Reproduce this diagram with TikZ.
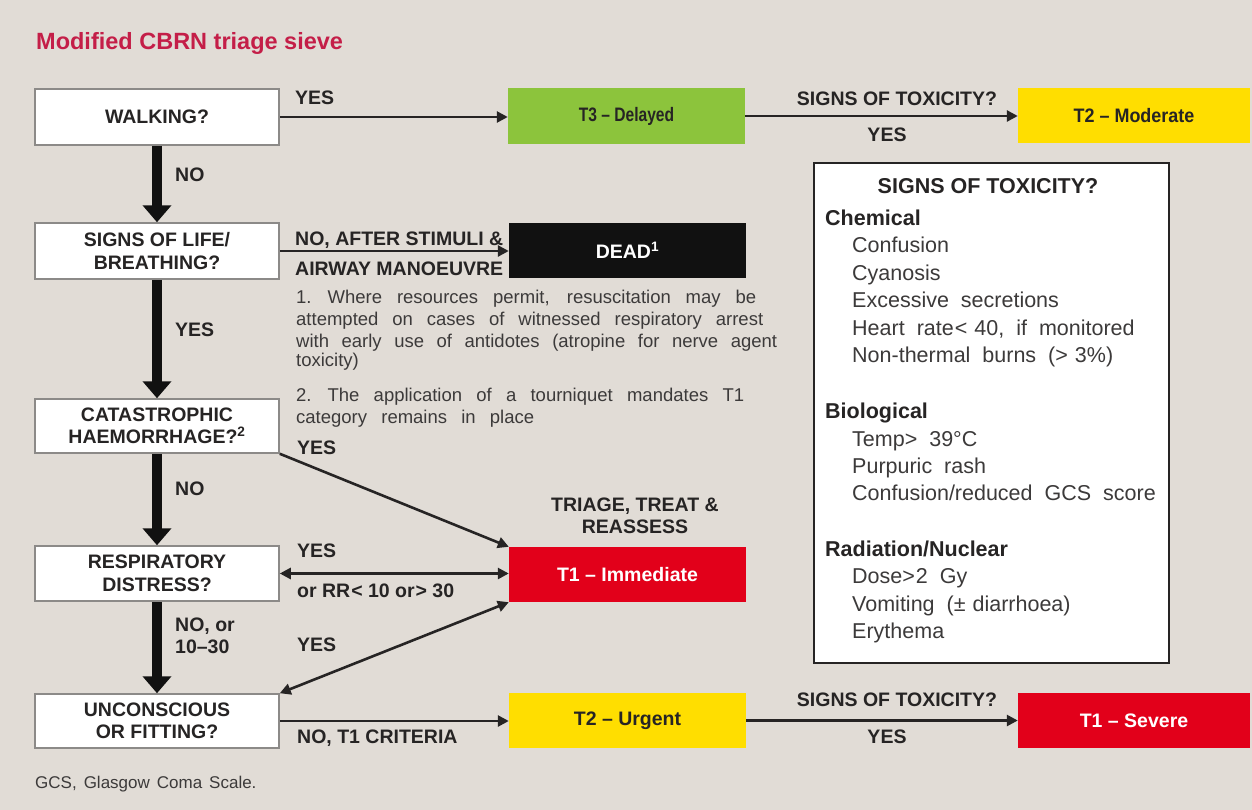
\documentclass[tikz,border=0pt]{standalone}
\usepackage{fontspec}
\usepackage{graphicx}
\setmainfont{Liberation Sans}
\usetikzlibrary{arrows.meta}
\definecolor{bg}{HTML}{E1DCD6}
\definecolor{txt}{HTML}{262424}
\definecolor{ntxt}{HTML}{3C3A3A}
\definecolor{crim}{HTML}{C41E48}
\definecolor{tgreen}{HTML}{8CC43C}
\definecolor{tyellow}{HTML}{FFDE00}
\definecolor{tred}{HTML}{E2001A}
\definecolor{tblack}{HTML}{111111}
\definecolor{qborder}{HTML}{8C8A88}
\newcommand{\flab}{\fontsize{19.5bp}{22.5bp}\selectfont\bfseries}
\newcommand{\fnote}{\fontsize{18.5bp}{21bp}\selectfont}
\newcommand{\fbody}{\fontsize{21.5bp}{25bp}\selectfont}
\newcommand{\fhead}{\fontsize{21.5bp}{25bp}\selectfont\bfseries}
\newcommand{\ws}{\hspace{12bp}}
\begin{document}
\begin{tikzpicture}[x=1bp,y=-1bp,
  qbox/.style={draw=qborder, line width=1.5bp, fill=white, minimum width=244bp,
    minimum height=55bp, inner sep=0pt, align=center, font=\flab, text=txt},
  cbox/.style={minimum width=237bp, minimum height=55bp, inner sep=0pt, font=\flab},
  lab/.style={anchor=west, inner sep=0pt, font=\flab, text=txt, text height=0.72em, text depth=0pt},
  clab/.style={lab, anchor=center},
  note/.style={anchor=west, inner sep=0pt, font=\fnote, text=ntxt, text height=0.72em, text depth=0pt},
  body/.style={anchor=west, inner sep=0pt, font=\fbody, text=ntxt, text height=0.72em, text depth=0pt},
  head/.style={anchor=west, inner sep=0pt, font=\fhead, text=txt, text height=0.72em, text depth=0pt},
  thinarrow/.style={line width=2.6bp, draw=txt, -{Triangle[length=11bp,width=11bp]}},
  dblarrow/.style={line width=2.6bp, draw=txt, {Triangle[length=11bp,width=11bp]}-{Triangle[length=11bp,width=11bp]}},
  thickarrow/.style={line width=10bp, draw=tblack, -{Triangle[length=17bp,width=28bp]}}
]
\useasboundingbox[fill=bg] (0,0) rectangle (1252,810);

% title
\node[anchor=west, inner sep=0pt, text=crim, font=\fontsize{23.5bp}{26bp}\selectfont\bfseries,
  text height=0.72em, text depth=0pt] (title) at (36,46) {Modified CBRN triage sieve};

% question boxes
\node[qbox, minimum height=56bp] (walk) at (157,117) {WALKING?};
\node[qbox, minimum height=56bp] (sol) at (157,251) {SIGNS OF LIFE/\\BREATHING?};
\node[qbox, minimum height=54bp] (cat) at (157,426) {CATASTROPHIC\\HAEMORRHAGE?\textsuperscript{2}};
\node[qbox] (resp) at (157,573.5) {RESPIRATORY\\DISTRESS?};
\node[qbox, minimum height=54bp] (unc) at (157,721) {UNCONSCIOUS\\OR FITTING?};

% category boxes
\node[cbox, fill=tgreen, text=txt, minimum height=56bp] (t3) at (626.5,116) {\scalebox{0.8}[1]{T3 – Delayed}};
\node[cbox, fill=tyellow, text=txt, minimum width=232bp] (t2m) at (1134,115.5) {\scalebox{0.92}[1]{T2 – Moderate}};
\node[cbox, fill=tblack, text=white] (dead) at (627.5,250.5) {DEAD\textsuperscript{1}};
\node[cbox, fill=tred, text=white] (t1i) at (627.5,574.5) {T1 – Immediate};
\node[cbox, fill=tyellow, text=txt] (t2u) at (627.5,720.5) {T2 – Urgent};
\node[cbox, fill=tred, text=white, minimum width=232bp] (t1s) at (1134,720.5) {T1 – Severe};

% thick vertical arrows
\draw[thickarrow] (walk.south) -- (sol.north);
\draw[thickarrow] (sol.south) -- (cat.north);
\draw[thickarrow] (cat.south) -- (resp.north);
\draw[thickarrow] (resp.south) -- (unc.north);

% vertical labels
\node[lab] (lno1) at (175,178) {NO};
\node[lab] (lyes1) at (175,333) {YES};
\node[lab] (lno2) at (175,492) {NO};
\node[lab] (lno3) at (175,628) {NO, or};
\node[lab] (lno3b) at (175,650) {10–30};

% horizontal and diagonal arrows
\draw[thinarrow] (walk.east) -- (walk.east -| t3.west);
\draw[thinarrow] (t3.east) -- (t3.east -| t2m.west);
\draw[thinarrow] (sol.east) -- (sol.east -| dead.west);
\draw[dblarrow] (resp.east) -- (resp.east -| t1i.west);
\draw[thinarrow] (unc.east) -- (unc.east -| t2u.west);
\draw[thinarrow] (t2u.east) -- (t2u.east -| t1s.west);
\draw[thinarrow] (cat.south east) -- (t1i.north west);
\draw[dblarrow] (t1i.south west) -- (unc.north east);

% arrow labels
\node[lab] (lyesw) at (295,101) {YES};
\node[clab] (ltox1) at (897,102) {SIGNS OF TOXICITY?};
\node[clab] (lyes2) at (887,138) {YES};
\node[lab] (lstim) at (295,242) {NO, AFTER STIMULI \&};
\node[lab] (lair) at (295,272) {AIRWAY MANOEUVRE};
\node[lab] (lyescat) at (297,451) {YES};
\node[clab] (ltri) at (635,508) {TRIAGE, TREAT \&};
\node[clab] (lreas) at (635,530) {REASSESS};
\node[lab] (lyesr) at (297,554) {YES};
\node[lab] (lrr) at (297,594) {or RR\kern1pt< 10 or\kern1pt> 30};
\node[lab] (lyesu) at (297,648) {YES};
\node[lab] (lnot1) at (297,740) {NO, T1 CRITERIA};
\node[clab] (ltox2) at (897,703) {SIGNS OF TOXICITY?};
\node[clab] (lyes3) at (887,740) {YES};

% footnotes
\node[note] (fn1) at (296,300) {\makebox[460bp][s]{1.\hspace{16bp}Where resources permit, resuscitation may be}};
\node[note] (fn2) at (296,322) {\makebox[467bp][s]{attempted on cases of witnessed respiratory arrest}};
\node[note] (fn3) at (296,344) {\makebox[481bp][s]{with early use of antidotes (atropine for nerve agent}};
\node[note] (fn4) at (296,363) {toxicity)};
\node[note] (fn5) at (296,398) {\makebox[448bp][s]{2.\hspace{16bp}The application of a tourniquet mandates T1}};
\node[note] (fn6) at (296,420) {\makebox[238bp][s]{category remains in place}};

% signs of toxicity box
\node[draw=txt, line width=2bp, fill=white, minimum width=355bp, minimum height=500bp, inner sep=0pt] (tox) at (991.5,413) {};
\node[head, anchor=center] (toxt) at (988,190) {SIGNS OF TOXICITY?};
\node[head] (chem) at (825,222) {Chemical};
\node[body] (c1) at (852,249) {Confusion};
\node[body] (c2) at (852,277) {Cyanosis};
\node[body] (c3) at (852,304) {Excessive\ws secretions};
\node[body] (c4) at (852,332) {Heart\ws rate\kern1pt<\hspace{7bp}40,\ws if\ws monitored};
\node[body] (c5) at (852,359) {Non-thermal\ws burns\ws (>\hspace{7bp}3\%)};
\node[head] (bio) at (825,415) {Biological};
\node[body] (b1) at (852,443) {Temp>\ws 39°C};
\node[body] (b2) at (852,470) {Purpuric\ws rash};
\node[body] (b3) at (852,497) {Confusion/reduced\ws GCS\ws score};
\node[head] (rad) at (825,553) {Radiation/Nuclear};
\node[body] (r1) at (852,580) {Dose>\kern1pt2\ws Gy};
\node[body] (r2) at (852,608) {Vomiting\ws (±\hspace{7bp}diarrhoea)};
\node[body] (r3) at (852,635) {Erythema};

% bottom note
\node[anchor=west, inner sep=0pt, font=\fontsize{17bp}{20bp}\selectfont, text=ntxt,
  text height=0.72em, text depth=0pt] (gcs) at (35,785) {GCS,\hspace{7bp}Glasgow\hspace{7bp}Coma\hspace{7bp}Scale.};
\end{tikzpicture}
\end{document}
